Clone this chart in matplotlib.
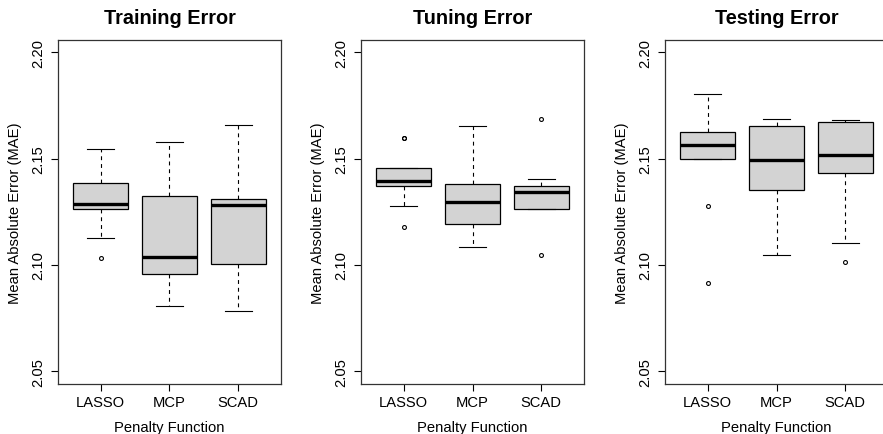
import matplotlib
matplotlib.use("Agg")
import matplotlib.pyplot as plt

plt.rcParams["font.family"] = ["Liberation Sans", "DejaVu Sans"]

categories = ["LASSO", "MCP", "SCAD"]
panel_titles = ["Training Error", "Tuning Error", "Testing Error"]
y_ticks = [2.05, 2.10, 2.15, 2.20]

# five-number summaries (lower whisker, Q1, median, Q3, upper whisker)
train_lo = [2.1127, 2.0807, 2.0784]
train_q1 = [2.1263, 2.0956, 2.1003]
train_med = [2.1287, 2.1036, 2.1284]
train_q3 = [2.1384, 2.1323, 2.1309]
train_hi = [2.1545, 2.1577, 2.1657]
train_out = [[2.1033], [], []]

tune_lo = [2.1279, 2.1086, 2.1262]
tune_q1 = [2.1370, 2.1191, 2.1262]
tune_med = [2.1393, 2.1298, 2.1342]
tune_q3 = [2.1455, 2.1379, 2.1373]
tune_hi = [2.1455, 2.1655, 2.1403]
tune_out = [[2.1597, 2.1599, 2.1180], [], [2.1685, 2.1049]]

test_lo = [2.1498, 2.1047, 2.1102]
test_q1 = [2.1498, 2.1353, 2.1433]
test_med = [2.1564, 2.1492, 2.1517]
test_q3 = [2.1627, 2.1652, 2.1671]
test_hi = [2.1804, 2.1688, 2.1680]
test_out = [[2.1279, 2.0915], [], [2.1013]]

panels = [
    (train_lo, train_q1, train_med, train_q3, train_hi, train_out),
    (tune_lo, tune_q1, tune_med, tune_q3, tune_hi, tune_out),
    (test_lo, test_q1, test_med, test_q3, test_hi, test_out),
]

W, H = 883, 435
fig = plt.figure(figsize=(W / 100, H / 100), dpi=100)
lefts = [58, 361, 665]

for left, title, (lo, q1, med, q3, hi, out) in zip(lefts, panel_titles, panels):
    ax = fig.add_axes([left / W, (H - 385) / H, 223 / W, 344.3 / H])
    stats = [
        dict(whislo=a, q1=b, med=c, q3=d, whishi=e, fliers=f)
        for a, b, c, d, e, f in zip(lo, q1, med, q3, hi, out)
    ]
    ax.bxp(
        stats,
        positions=[1, 2, 3],
        widths=0.8,
        patch_artist=True,
        boxprops=dict(facecolor="#d3d3d3", edgecolor="black", linewidth=0.9),
        medianprops=dict(color="black", linewidth=2.4, solid_capstyle="butt"),
        whiskerprops=dict(color="black", linewidth=0.8, linestyle=(0, (3.5, 3.5))),
        capprops=dict(color="black", linewidth=0.8),
        capwidths=0.4,
        flierprops=dict(marker="o", markersize=2.8, markerfacecolor="none",
                        markeredgecolor="black", markeredgewidth=0.8),
    )
    ax.set_xlim(0.38, 3.62)
    ax.set_ylim(2.044, 2.206)
    ax.set_yticks(y_ticks)
    ax.set_yticklabels([f"{v:.2f}" for v in y_ticks], rotation=90, va="center")
    ax.set_xticks([1, 2, 3])
    ax.set_xticklabels(categories)
    ax.tick_params(axis="y", length=5, width=0.8, pad=4.5, labelsize=10.6)
    ax.tick_params(axis="x", length=5, width=0.8, pad=3, labelsize=10.6)
    for sp in ax.spines.values():
        sp.set_linewidth(0.9)
        sp.set_color("#333333")
    ax.set_xlabel("Penalty Function", fontsize=10.6, labelpad=8)
    ax.set_ylabel("Mean Absolute Error (MAE)", fontsize=10.6, labelpad=6)
    ax.set_title(title, fontsize=14.3, fontweight="bold", pad=12)

fig.savefig("out.png", dpi=100)
